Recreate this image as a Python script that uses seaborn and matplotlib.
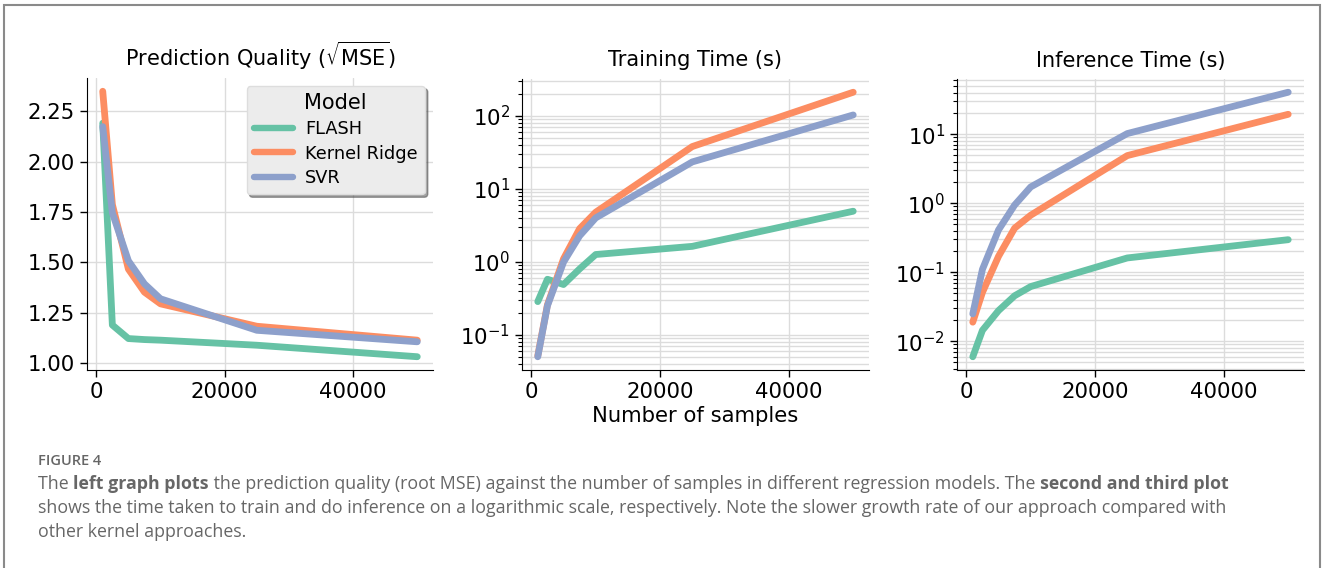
import numpy as np
import pandas as pd
import matplotlib
matplotlib.use("Agg")
import matplotlib.pyplot as plt
import seaborn as sns
from matplotlib.patches import Rectangle

# ---------------- data ----------------
n_samples = [1000, 2500, 5000, 7500, 10000, 25000, 50000]
models = ["FLASH", "Kernel Ridge", "SVR"]

rmse_flash = [2.19, 1.19, 1.123, 1.118, 1.115, 1.09, 1.033]
rmse_krr = [2.348, 1.787, 1.467, 1.353, 1.295, 1.184, 1.115]
rmse_svr = [2.173, 1.746, 1.508, 1.394, 1.32, 1.164, 1.107]

train_flash = [0.285, 0.577, 0.489, 0.80, 1.26, 1.63, 4.94]
train_krr = [0.0515, 0.257, 1.1, 2.85, 4.79, 38.0, 211.0]
train_svr = [0.050, 0.25, 0.99, 2.27, 4.0, 23.4, 103.0]

infer_flash = [0.00596, 0.0144, 0.0278, 0.0456, 0.062, 0.161, 0.296]
infer_krr = [0.0189, 0.051, 0.17, 0.435, 0.67, 4.89, 19.4]
infer_svr = [0.0249, 0.11, 0.41, 0.94, 1.72, 10.2, 40.5]

titles = [r"Prediction Quality ($\sqrt{\mathrm{MSE}}$)", "Training Time (s)", "Inference Time (s)"]
xlabel_text = "Number of samples"
caption_label = "FIGURE 4"
caption_lines = [
    [("The ", False), ("left graph plots", True),
     (" the prediction quality (root MSE) against the number of samples in different regression models. The ", False),
     ("second and third plot", True)],
    [("shows the time taken to train and do inference on a logarithmic scale, respectively. Note the slower growth rate of our approach compared with", False)],
    [("other kernel approaches.", False)],
]


def long_frame(a, b, c):
    return pd.DataFrame({
        "n": n_samples * 3,
        "value": list(a) + list(b) + list(c),
        "Model": [m for m in models for _ in n_samples],
    })


df_rmse = long_frame(rmse_flash, rmse_krr, rmse_svr)
df_train = long_frame(train_flash, train_krr, train_svr)
df_infer = long_frame(infer_flash, infer_krr, infer_svr)

# ---------------- style ----------------
sns.set_style("ticks")
plt.rcParams["font.family"] = ["DejaVu Sans"]
for k in ("text.color", "axes.labelcolor", "xtick.color", "ytick.color", "axes.edgecolor"):
    plt.rcParams[k] = "black"
palette = sns.color_palette("Set2", 3)

W, H = 1328, 568
fig = plt.figure(figsize=(W / 100, H / 100), dpi=100)


def px_axes(left, top, right, bottom):
    return fig.add_axes([left / W, 1 - bottom / H, (right - left) / W, (bottom - top) / H])


ax1 = px_axes(87, 78, 433, 370)
ax2 = px_axes(522, 79, 869, 370)
ax3 = px_axes(957, 79, 1304, 370)

grid_kw = dict(color="#dcdcdc", linewidth=1.0)
lw = 4.9

sns.lineplot(data=df_rmse, x="n", y="value", hue="Model", palette=palette,
             linewidth=lw, ax=ax1)
sns.lineplot(data=df_train, x="n", y="value", hue="Model", palette=palette,
             linewidth=lw, ax=ax2, legend=False)
sns.lineplot(data=df_infer, x="n", y="value", hue="Model", palette=palette,
             linewidth=lw, ax=ax3, legend=False)

for ax in (ax2, ax3):
    ax.set_yscale("log")

for ax, t in zip((ax1, ax2, ax3), titles):
    ax.set_title(t, fontsize=15, pad=9)
    ax.set_xlabel("")
    ax.set_ylabel("")
    ax.set_xticks([0, 20000, 40000])
    ax.tick_params(axis="both", labelsize=15.3, length=5, width=1)
    ax.tick_params(axis="y", which="minor", length=3, width=0.8)
    sns.despine(ax=ax)
    ax.set_axisbelow(True)

ax1.grid(True, which="major", **grid_kw)
ax1.set_yticks([1.00, 1.25, 1.50, 1.75, 2.00, 2.25])
ax1.set_yticklabels(["1.00", "1.25", "1.50", "1.75", "2.00", "2.25"])
for ax in (ax2, ax3):
    ax.grid(True, which="major", axis="both", **grid_kw)
    ax.grid(True, which="minor", axis="y", **grid_kw)

ax2.set_xlabel(xlabel_text, fontsize=15.2, labelpad=3)

leg = ax1.legend(title="Model", loc="upper right", fontsize=12.8, title_fontsize=15,
                 shadow=True, fancybox=True, framealpha=1.0,
                 facecolor="#ececec", edgecolor="#dddddd",
                 handlelength=2.2, handletextpad=0.7, borderpad=0.4,
                 labelspacing=0.38, borderaxespad=0.45)
for h in leg.get_lines():
    h.set_linewidth(4.6)

# ---------------- caption & border ----------------
fig.patches.append(Rectangle((4 / W, -0.05), (1320 - 4) / W, 1 - 5 / H + 0.05,
                             transform=fig.transFigure, fill=False,
                             edgecolor="#8a8a8a", linewidth=1.5))

cap_font = ["Open Sans", "DejaVu Sans"]
fig.text(38 / W, 1 - 461 / H, caption_label, fontsize=10.5, color="#666666",
         family=cap_font, fontweight="semibold", va="center")

fig.canvas.draw()
renderer = fig.canvas.get_renderer()
line_y = [484, 508, 532]
for parts, yy in zip(caption_lines, line_y):
    x = 38
    for txt, bold in parts:
        t = fig.text(x / W, 1 - yy / H, txt, fontsize=12.8, color="#666666",
                     family=cap_font, fontweight="bold" if bold else "normal",
                     va="center")
        bb = t.get_window_extent(renderer)
        x += bb.width

fig.savefig("out.png", dpi=100)
